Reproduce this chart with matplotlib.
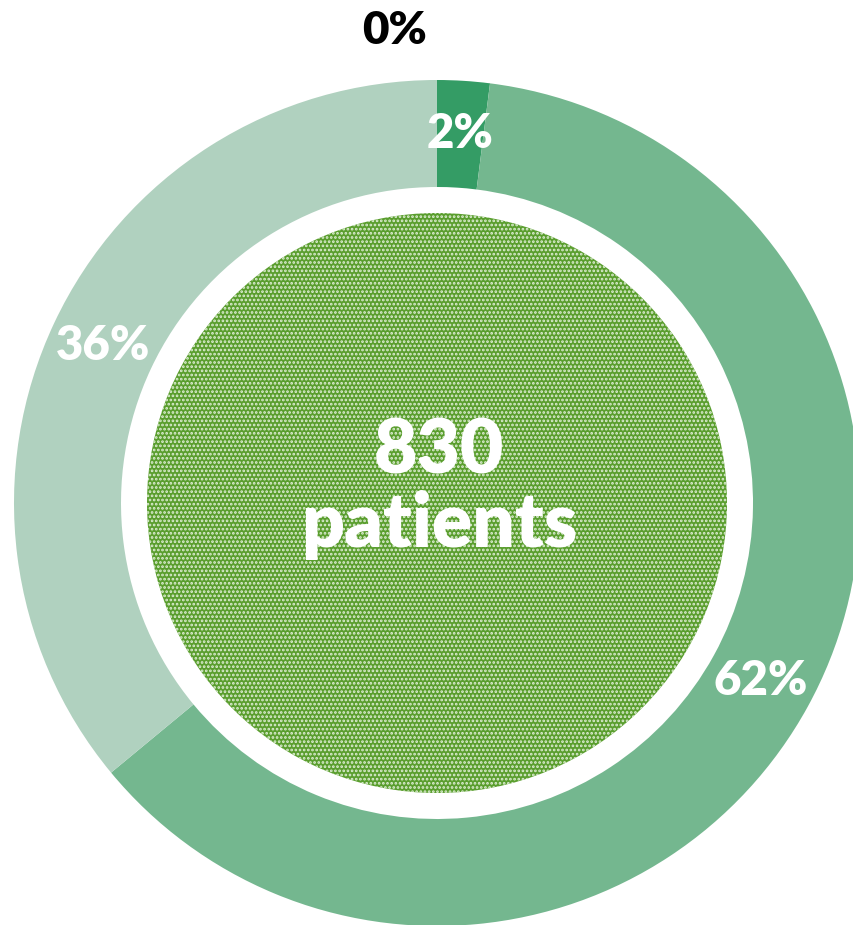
import matplotlib.pyplot as plt
from matplotlib.patches import Circle
import numpy as np

# data
labels = ['0%', '2%', '62%', '36%']
values = [0, 2, 62, 36]
colors = ['#1f7a4a', '#349c65', '#74b78f', '#b0d1bf']
total_patients = 830

plt.rcParams['font.family'] = ['Lato', 'DejaVu Sans']
plt.rcParams['hatch.linewidth'] = 1.3

fig = plt.figure(figsize=(8.54, 9.25), dpi=100)
ax = fig.add_axes([0, 0, 1, 1])

cx, cy = 437, 422
R = 423
w = 107

wedges, texts = ax.pie(values, colors=colors, startangle=90, counterclock=False,
                       center=(cx, cy), radius=R,
                       wedgeprops=dict(width=w, linewidth=0))

# percentage labels in the middle of the ring
cum = np.cumsum([0] + values)
for i, lab in enumerate(labels):
    if values[i] == 0:
        continue
    mid = (cum[i] + cum[i + 1]) / 2.0 / 100.0
    ang = np.deg2rad(90 - mid * 360)
    r = R - w / 2.0
    ax.text(cx + r * np.cos(ang), cy + r * np.sin(ang), lab, color='white',
            fontsize=34, fontweight='heavy', ha='center', va='center')

# the empty one sits above the ring
ax.text(cx - 42, cy + 473, labels[0], color='black', fontsize=33,
        fontweight='heavy', ha='center', va='center')

inner = Circle((cx, cy), 290, facecolor='#5a9e2e', edgecolor='#dfeed5',
               hatch='....', linewidth=0)
ax.add_patch(inner)

ax.text(cx + 2, cy + 52, str(total_patients), color='white', fontsize=54,
        fontweight='heavy', ha='center', va='center')
ax.text(cx + 2, cy - 22, 'patients', color='white', fontsize=54,
        fontweight='heavy', ha='center', va='center')

ax.set_xlim(0, 854)
ax.set_ylim(0, 925)
ax.set_aspect('equal')
ax.axis('off')

fig.savefig('out.png', dpi=100)
